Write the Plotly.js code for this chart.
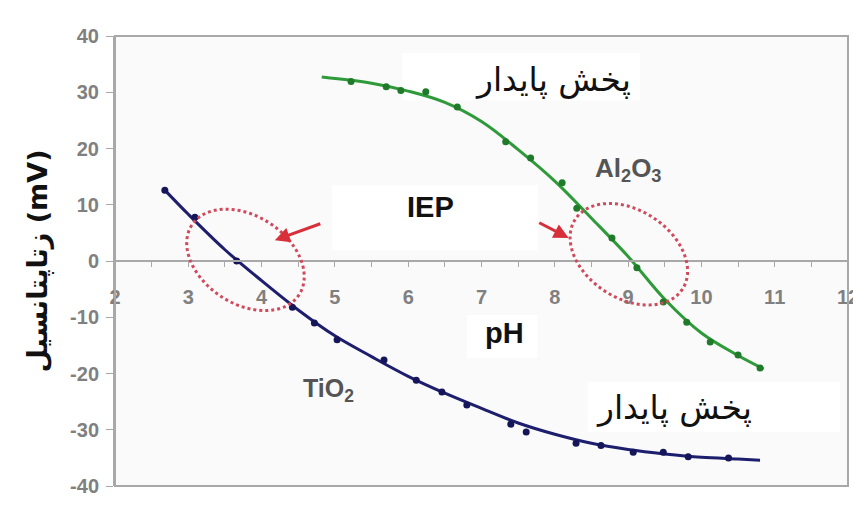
<!DOCTYPE html>
<html>
<head>
<meta charset="utf-8">
<script src="https://cdn.plot.ly/plotly-3.0.1.min.js"></script>
<style>html,body{margin:0;padding:0;background:#fff}#chart{width:853px;height:515px}</style>
</head>
<body>
<div id="chart"></div>
<script>
// ---- Data ----
const xTicks = [2,3,4,5,6,7,8,9,10,11,12];
const yTicks = [-40,-30,-20,-10,0,10,20,30,40];

// TiO2 measured points
const tio2X = [2.68,3.09,3.66,4.42,4.72,5.03,5.67,6.11,6.46,6.80,7.40,7.61,8.29,8.63,9.07,9.48,9.82,10.37];
const tio2Y = [12.6,7.8,0.0,-8.2,-11.0,-14.0,-17.6,-21.2,-23.3,-25.6,-29.0,-30.4,-32.4,-32.8,-34.0,-34.0,-34.8,-35.0];
// TiO2 trend line
const tio2FitX = [2.68,3.0,3.5,4.0,4.5,5.0,5.5,6.0,6.5,7.0,7.5,8.0,8.5,9.0,9.5,10.0,10.5,10.8];
const tio2FitY = [12.6,8.3,2.0,-3.5,-8.7,-13.3,-17.0,-20.5,-23.5,-26.2,-28.8,-30.8,-32.4,-33.5,-34.3,-34.9,-35.2,-35.4];

// Al2O3 measured points
const alX = [5.22,5.70,5.90,6.24,6.67,7.33,7.67,8.10,8.30,8.78,9.12,9.48,9.80,10.12,10.50,10.80];
const alY = [31.9,31.0,30.3,30.1,27.4,21.2,18.3,13.9,9.4,4.1,-1.2,-7.3,-10.9,-14.4,-16.7,-19.0];
// Al2O3 trend line
const alFitX = [4.82,5.5,6.0,6.5,7.0,7.5,8.0,8.5,9.0,9.5,10.0,10.5,10.85];
const alFitY = [32.7,31.6,30.2,28.2,24.8,19.8,14.2,7.6,0.8,-6.8,-12.8,-16.8,-19.2];

// ---- geometry helpers ----
const M = {l:115, r:5, t:36, b:29};
const W = 853, H = 515;
const xRange = [2,12], yRange = [-40,40];
const pxX = (W - M.l - M.r) / (xRange[1]-xRange[0]);
const pxY = (H - M.t - M.b) / (yRange[1]-yRange[0]);

function ellipsePath(cx, cy, a, b, deg){
  const th = deg*Math.PI/180; let p = '';
  for(let i=0;i<=72;i++){
    const t = i/72*2*Math.PI;
    const dx = a*Math.cos(t)*Math.cos(th) - b*Math.sin(t)*Math.sin(th);
    const dy = a*Math.cos(t)*Math.sin(th) + b*Math.sin(t)*Math.cos(th);
    const x = cx + dx/pxX, y = cy - dy/pxY;
    p += (i===0?'M':'L') + x.toFixed(4) + ',' + y.toFixed(4);
  }
  return p + 'Z';
}

const navy = '#1e1e6e', green = '#2f9a3a';
const traces = [
  {x: tio2FitX, y: tio2FitY, mode:'lines', line:{color:navy, width:3, shape:'spline', smoothing:1}, hoverinfo:'skip', showlegend:false},
  {x: tio2X, y: tio2Y, mode:'markers', marker:{color:'#15155a', size:7}, name:'TiO2', showlegend:false},
  {x: alFitX, y: alFitY, mode:'lines', line:{color:green, width:3, shape:'spline', smoothing:1}, hoverinfo:'skip', showlegend:false},
  {x: alX, y: alY, mode:'markers', marker:{color:'#1f7a2a', size:7}, name:'Al2O3', showlegend:false}
];

const white = {type:'rect', xref:'x', yref:'y', layer:'below', fillcolor:'#ffffff', line:{width:0}};
const shapes = [
  Object.assign({x0:4.96, x1:7.77, y0:1.9, y1:13.5}, white),
  Object.assign({x0:6.80, x1:7.76, y0:-17.2, y1:-9.6}, white),
  Object.assign({x0:5.92, x1:9.16, y0:28.6, y1:37.0}, white),
  Object.assign({x0:8.45, x1:11.89, y0:-30.4, y1:-21.5}, white),
  {type:'path', xref:'x', yref:'y', path: ellipsePath(3.78, 0.2, 64, 44, 33), line:{color:'#d04a5c', width:3, dash:'dot'}},
  {type:'path', xref:'x', yref:'y', path: ellipsePath(9.01, 1.2, 64, 44, 33), line:{color:'#d04a5c', width:3, dash:'dot'}},
  {type:'rect', xref:'paper', yref:'paper', x0:0, x1:1, y0:0, y1:1, line:{color:'#a8a8a8', width:2}}
];

const fa = 'DejaVu Sans, Noto Sans, sans-serif';
const lat = 'Liberation Sans, Arial, sans-serif';
const annotations = [
  {x:6.30, y:9.6, xref:'x', yref:'y', text:'<b>IEP</b>', showarrow:false, font:{family:lat, size:29, color:'#111'}},
  {x:7.32, y:-12.8, xref:'x', yref:'y', text:'<b>pH</b>', showarrow:false, font:{family:lat, size:29, color:'#111'}},
  {x:4.91, y:-22.9, xref:'x', yref:'y', text:'<b>TiO<sub>2</sub></b>', showarrow:false, font:{family:lat, size:25, color:'#555'}},
  {x:9.00, y:16.2, xref:'x', yref:'y', text:'<b>Al<sub>2</sub>O<sub>3</sub></b>', showarrow:false, font:{family:lat, size:26, color:'#555'}},
  {x:7.98, y:32.2, xref:'x', yref:'y', text:'پخش پایدار', showarrow:false, font:{family:fa, size:33, color:'#111'}},
  {x:9.63, y:-26.1, xref:'x', yref:'y', text:'پخش پایدار', showarrow:false, font:{family:fa, size:33, color:'#111'}},
  {x:4.18, y:3.7, xref:'x', yref:'y', text:'', showarrow:true, ax:47, ay:-17, arrowhead:2, arrowsize:1, arrowwidth:3, arrowcolor:'#d8303a'},
  {x:8.19, y:4.1, xref:'x', yref:'y', text:'', showarrow:true, ax:-31, ay:-16, arrowhead:2, arrowsize:1, arrowwidth:3, arrowcolor:'#d8303a'}
];

const tickFont = {family:lat, size:20, color:'#808080', weight:'bold'};
const layout = {
  width:W, height:H, margin:M,
  paper_bgcolor:'#ffffff', plot_bgcolor:'#fafafa',
  showlegend:false,
  xaxis:{range:xRange, tickvals:xTicks, ticktext:xTicks.map(String), anchor:'free', position:0.5,
         showline:true, linecolor:'#a8a8a8', linewidth:2, ticks:'outside', ticklen:5, tickcolor:'#a8a8a8',
         minor:{dtick:0.5, ticks:'outside', ticklen:5, tickcolor:'#a8a8a8'},
         showgrid:false, zeroline:false, tickfont:tickFont, ticklabelstandoff:13, ticklabeloverflow:'allow'},
  yaxis:{range:yRange, tickvals:yTicks, ticktext:yTicks.map(String), showline:true, linecolor:'#a8a8a8', linewidth:2,
         ticks:'outside', ticklen:7, tickcolor:'#a8a8a8', showgrid:false, zeroline:false, tickfont:tickFont, ticklabelstandoff:3,
         title:{text:'<b>زتاپتانسیل (mV)</b>', font:{family:fa, size:27, color:'#111'}, standoff:15}},
  shapes: shapes, annotations: annotations
};
Plotly.newPlot('chart', traces, layout, {displayModeBar:false, staticPlot:true});
</script>
</body>
</html>
